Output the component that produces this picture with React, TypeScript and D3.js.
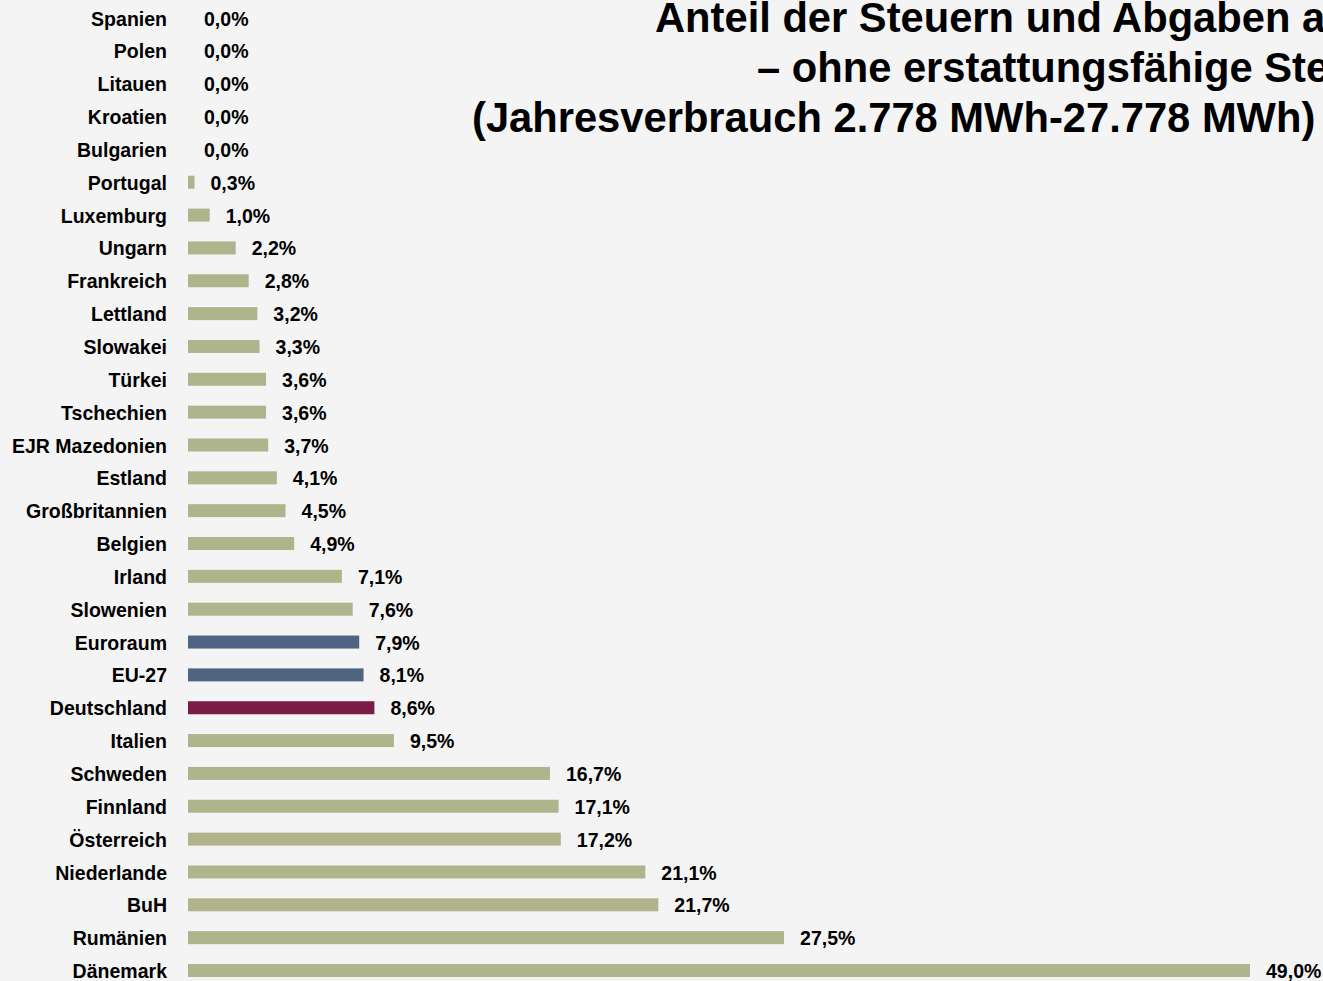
import React from "react";
import * as d3 from "d3";

const categories = [
  "Spanien", "Polen", "Litauen", "Kroatien", "Bulgarien", "Portugal", "Luxemburg", "Ungarn",
  "Frankreich", "Lettland", "Slowakei", "Türkei", "Tschechien", "EJR Mazedonien", "Estland",
  "Großbritannien", "Belgien", "Irland", "Slowenien", "Euroraum", "EU-27", "Deutschland",
  "Italien", "Schweden", "Finnland", "Österreich", "Niederlande", "BuH", "Rumänien", "Dänemark",
];
const values = [
  0.0, 0.0, 0.0, 0.0, 0.0, 0.3, 1.0, 2.2, 2.8, 3.2, 3.3, 3.6, 3.6, 3.7, 4.1, 4.5, 4.9, 7.1, 7.6,
  7.9, 8.1, 8.6, 9.5, 16.7, 17.1, 17.2, 21.1, 21.7, 27.5, 49.0,
];
const highlightBlue = ["Euroraum", "EU-27"];
const highlightRed = ["Deutschland"];
const titleLines = [
  "Anteil der Steuern und Abgaben am Industriestrompreis",
  "– ohne erstattungsfähige Steuern –",
  "(Jahresverbrauch 2.778 MWh-27.778 MWh)",
];

const W = 1323;
const H = 981;
const fmt = (v: number) => v.toFixed(1).replace(".", ",") + "%";

export default function App() {
  const x = d3.scaleLinear().domain([0, 49]).range([188, 1250]);
  const y = d3.scalePoint<string>().domain(categories).range([18, 970.5]);
  const barH = 13;
  const color = (c: string) =>
    highlightRed.includes(c) ? "#7b1c48" : highlightBlue.includes(c) ? "#4f6481" : "#b0b48c";
  const font = "'Liberation Sans', Arial, sans-serif";
  const sx = 0.93;
  const titleX = [655, 757, 472];
  return (
    <svg
      width={W}
      height={H}
      style={{ position: "absolute", left: 0, top: 0, background: "#f4f4f4" }}
    >
      <rect x={0} y={0} width={W} height={H} fill="#f4f4f4" />
      {titleLines.map((t, i) => (
        <text
          key={t}
          x={titleX[i]}
          y={32 + i * 50}
          fontFamily={font}
          fontWeight="bold"
          fontSize={41.7}
          fill="#000"
        >
          {t}
        </text>
      ))}
      {categories.map((c, i) => {
        const cy = y(c) as number;
        const v = values[i];
        return (
          <g key={c}>
            <g transform={`translate(167,${cy}) scale(${sx},1)`}>
              <text
                x={0}
                y={0}
                dy="0.36em"
                textAnchor="end"
                fontFamily={font}
                fontWeight="bold"
                fontSize={21}
                fill="#000"
              >
                {c}
              </text>
            </g>
            {v > 0 && (
              <rect x={x(0)} y={cy - barH / 2} width={x(v) - x(0)} height={barH} fill={color(c)} />
            )}
            <g transform={`translate(${x(v) + 16},${cy}) scale(${sx},1)`}>
              <text
                x={0}
                y={0}
                dy="0.36em"
                fontFamily={font}
                fontWeight="bold"
                fontSize={21}
                fill="#000"
              >
                {fmt(v)}
              </text>
            </g>
          </g>
        );
      })}
    </svg>
  );
}
